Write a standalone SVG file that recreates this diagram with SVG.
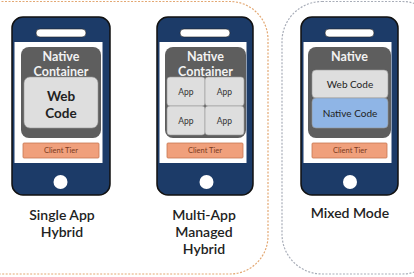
<svg xmlns="http://www.w3.org/2000/svg" width="414" height="277" viewBox="0 0 414 277">
<style>
.frame{fill:none;stroke-width:1.2;stroke-dasharray:2 1.5}
.body{fill:#1c3b68;stroke:#111;stroke-width:1.5}
.spk{fill:#fff;stroke:#222;stroke-width:0.6}
.screen{fill:#fff}
.cont{fill:#5e5e5e}
.code{fill:#dedede;stroke:#999;stroke-width:0.6}
.ncode{fill:#8fb5e6;stroke:#999;stroke-width:0.6}
.tier{fill:#f0a07c;stroke:#c77650;stroke-width:0.8}
.btn{fill:#fff}
text{font-family:Lato,"Open Sans","Liberation Sans",sans-serif;text-anchor:middle}
.ct{fill:#f2f2f2;font-size:12.5px;font-weight:bold}
.wc{fill:#222;font-size:13.5px;font-weight:bold}
.app{fill:#333;font-size:8.5px}
.sc{fill:#222;font-size:10px}
.tt{fill:#7a3a1e;font-size:7.5px}
.lbl{fill:#222;font-size:14px;font-weight:600}
</style>
<g id="frames">
<rect class="frame" x="-40" y="1.5" width="308" height="272.5" rx="38" stroke="#e3a873"/>
<rect class="frame" x="282" y="1.5" width="160" height="272.5" rx="40" stroke="#a8adb8"/>
</g>
<g id="phone1">
<rect class="body" x="12" y="17" width="98" height="178" rx="11"/>
<rect class="spk" x="36" y="29" width="50" height="8" rx="4"/>
<rect class="screen" x="14.5" y="42" width="88" height="121"/>
<rect class="cont" x="21" y="47" width="80" height="91" rx="8"/>
<text class="ct" x="61" y="61">Native</text>
<text class="ct" x="61" y="76">Container</text>
<rect class="code" x="24" y="77" width="74" height="51" rx="6"/>
<text class="wc" x="61" y="101">Web</text>
<text class="wc" x="61" y="118">Code</text>
<rect class="tier" x="23" y="143" width="76" height="15" rx="1"/>
<text class="tt" x="61" y="153">Client Tier</text>
<circle class="btn" cx="60.5" cy="182" r="7"/>
<text class="lbl" x="62" y="220">Single App</text>
<text class="lbl" x="62" y="237">Hybrid</text>
</g>
<g id="phone2">
<rect class="body" x="157" y="17" width="96" height="178" rx="11"/>
<rect class="spk" x="180" y="29" width="50" height="8" rx="4"/>
<rect class="screen" x="159.5" y="42" width="87" height="121"/>
<rect class="cont" x="165" y="47" width="81" height="91" rx="8"/>
<text class="ct" x="205.5" y="61">Native</text>
<text class="ct" x="205.5" y="76">Container</text>
<rect class="code" x="167" y="77" width="38" height="29" rx="3"/>
<rect class="code" x="205" y="77" width="39" height="29" rx="3"/>
<rect class="code" x="167" y="106" width="38" height="29" rx="3"/>
<rect class="code" x="205" y="106" width="39" height="29" rx="3"/>
<text class="app" x="186" y="95">App</text>
<text class="app" x="224.5" y="95">App</text>
<text class="app" x="186" y="124">App</text>
<text class="app" x="224.5" y="124">App</text>
<rect class="tier" x="167" y="143" width="76" height="15" rx="1"/>
<text class="tt" x="205" y="153">Client Tier</text>
<circle class="btn" cx="206.5" cy="182" r="7"/>
<text class="lbl" x="204" y="220">Multi-App</text>
<text class="lbl" x="204" y="237">Managed</text>
<text class="lbl" x="204" y="254">Hybrid</text>
</g>
<g id="phone3">
<rect class="body" x="301" y="17" width="97" height="178" rx="11"/>
<rect class="spk" x="325" y="29" width="49" height="8" rx="4"/>
<rect class="screen" x="303.5" y="42" width="88" height="121"/>
<rect class="cont" x="308" y="47" width="83" height="91" rx="8"/>
<text class="ct" x="349.5" y="61">Native</text>
<rect class="code" x="312" y="70" width="76" height="28" rx="4"/>
<text class="sc" x="350" y="88">Web Code</text>
<rect class="ncode" x="312" y="98" width="76" height="30" rx="4"/>
<text class="sc" x="350" y="117">Native Code</text>
<rect class="tier" x="312" y="143" width="75" height="15" rx="1"/>
<text class="tt" x="350" y="153">Client Tier</text>
<circle class="btn" cx="350" cy="182" r="7"/>
<text class="lbl" x="350" y="218">Mixed Mode</text>
</g>
</svg>
